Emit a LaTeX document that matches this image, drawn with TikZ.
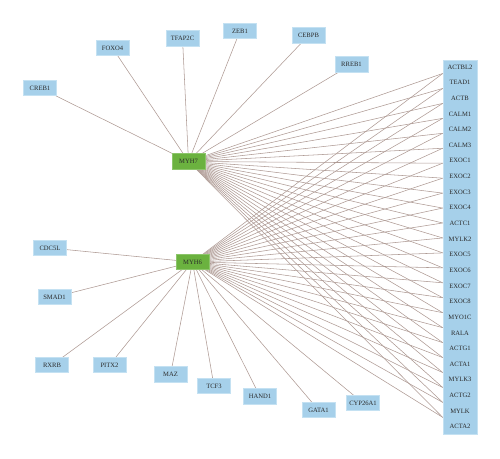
\documentclass[tikz,border=0pt]{standalone}
\usepackage{fontspec}
\setmainfont{Liberation Serif}
\usetikzlibrary{backgrounds}
\definecolor{leafblue}{HTML}{A6D0EA}
\definecolor{leafline}{HTML}{C4E1F2}
\definecolor{hubgreen}{HTML}{6BB23F}
\definecolor{hubline}{HTML}{8CC56A}
\definecolor{edgec}{HTML}{AE9A94}
\definecolor{txt}{HTML}{2A2A2A}
\tikzset{
  leaf/.style={fill=leafblue, draw=leafline, line width=0.6pt, minimum width=33pt, minimum height=15.5pt, inner sep=0pt, font=\fontsize{6.6}{7}\selectfont, text=txt},
  hub/.style={fill=hubgreen, draw=hubline, line width=0.6pt, minimum width=33pt, minimum height=15.5pt, inner sep=0pt, font=\fontsize{6.6}{7}\selectfont, text=txt},
  colbox/.style={fill=leafblue, draw=leafline, line width=0.6pt, minimum width=34pt, minimum height=374pt, inner sep=0pt},
  collabel/.style={inner sep=0pt, minimum width=34pt, minimum height=12pt, font=\fontsize{6.6}{7}\selectfont, text=txt},
  edge/.style={draw=edgec, line width=0.55pt}
}
\begin{document}
\begin{tikzpicture}[x=1pt,y=-1pt]
\useasboundingbox (0,0) rectangle (500,458);
% hubs
\node[hub] (MYH7) at (188.5,161.5) {MYH7};
\node[hub] (MYH6) at (192.5,262) {MYH6};
% MYH7 leaves
\node[leaf] (CREB1) at (40,88) {CREB1};
\node[leaf] (FOXO4) at (112.5,48) {FOXO4};
\node[leaf] (TFAP2C) at (182.5,38.5) {TFAP2C};
\node[leaf] (ZEB1) at (240,31) {ZEB1};
\node[leaf] (CEBPB) at (308.5,35.5) {CEBPB};
\node[leaf] (RREB1) at (351.5,64.5) {RREB1};
% MYH6 leaves
\node[leaf] (CDC5L) at (50,248) {CDC5L};
\node[leaf] (SMAD1) at (54.5,297) {SMAD1};
\node[leaf] (RXRB) at (52,365) {RXRB};
\node[leaf] (PITX2) at (109.5,365) {PITX2};
\node[leaf] (MAZ) at (170.5,374.5) {MAZ};
\node[leaf] (TCF3) at (214,386) {TCF3};
\node[leaf] (HAND1) at (260,396.5) {HAND1};
\node[leaf] (GATA1) at (318.5,410) {GATA1};
\node[leaf] (CYP26A1) at (363,403) {CYP26A1};
% right column
\node[colbox] (col) at (460,247) {};
\foreach \n [count=\i from 0] in {ACTBL2,TEAD1,ACTB,CALM1,CALM2,CALM3,EXOC1,EXOC2,EXOC3,EXOC4,ACTC1,MYLK2,EXOC5,EXOC6,EXOC7,EXOC8,MYO1C,RALA,ACTG1,ACTA1,MYLK3,ACTG2,MYLK,ACTA2}{
  \node[collabel] (r\i) at (460,{67+15.64*\i}) {\n};
  \coordinate (e\i) at (col.west |- {0,{73.5+14.95*\i}});
}
\begin{pgfonlayer}{background}
\foreach \t in {CREB1,FOXO4,TFAP2C,ZEB1,CEBPB,RREB1}{\draw[edge] (MYH7.center) -- (\t.center);}
\foreach \t in {CDC5L,SMAD1,RXRB,PITX2,MAZ,TCF3,HAND1,GATA1,CYP26A1}{\draw[edge] (MYH6.center) -- (\t.center);}
\foreach \i in {0,...,23}{
  \draw[edge] (MYH7.center) -- (e\i);
  \draw[edge] (MYH6.center) -- (e\i);
}
\end{pgfonlayer}
\end{tikzpicture}
\end{document}
